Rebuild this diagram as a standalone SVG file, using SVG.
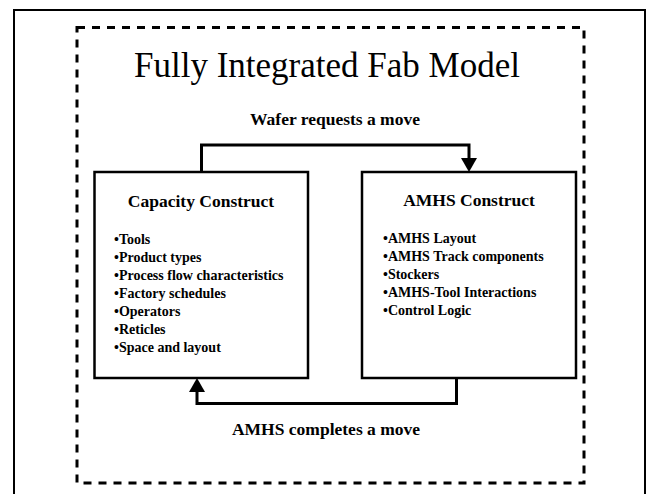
<svg xmlns="http://www.w3.org/2000/svg" width="647" height="494" viewBox="0 0 647 494">
  <style>
    .frame { fill: none; stroke: #000; stroke-width: 2; }
    .dash { fill: none; stroke: #000; stroke-width: 3; stroke-dasharray: 8 7; }
    .box { fill: #fff; stroke: #000; stroke-width: 2.5; }
    .link { fill: none; stroke: #000; stroke-width: 3; }
    .title { font-family: "Liberation Serif", "Times New Roman", serif; font-size: 35px; fill: #000; }
    .label { font-family: "Liberation Serif", "Times New Roman", serif; font-size: 17.5px; font-weight: bold; fill: #000; }
    .item { font-family: "Liberation Serif", "Times New Roman", serif; font-size: 14px; font-weight: bold; fill: #000; }
  </style>
  <defs>
    <marker id="head" markerUnits="userSpaceOnUse" markerWidth="14" markerHeight="16" viewBox="0 0 14 16" refX="0" refY="8" orient="auto">
      <path d="M0,0 L14,8 L0,16 Z" fill="#000"/>
    </marker>
  </defs>

  <rect width="647" height="494" fill="#fff"/>
  <!-- page frame -->
  <rect class="frame" x="14" y="10" width="631" height="500"/>
  <!-- model boundary -->
  <rect class="dash" x="77" y="27.5" width="507" height="455.5"/>

  <text class="title" x="327" y="77" text-anchor="middle">Fully Integrated Fab Model</text>

  <g id="connectors">
    <path class="link" d="M201.5,172 V145 H469 V158" marker-end="url(#head)"/>
    <path class="link" d="M456.5,378 V403.5 H197 V392" marker-end="url(#head)"/>
    <text class="label" x="335" y="125" text-anchor="middle">Wafer requests a move</text>
    <text class="label" x="326" y="435" text-anchor="middle">AMHS completes a move</text>
  </g>

  <g id="capacity">
    <rect class="box" x="94.5" y="172" width="213.5" height="206"/>
    <text class="label" x="201" y="207" text-anchor="middle">Capacity Construct</text>
    <text class="item" x="114" y="244">•Tools</text>
    <text class="item" x="114" y="262">•Product types</text>
    <text class="item" x="114" y="280">•Process flow characteristics</text>
    <text class="item" x="114" y="298">•Factory schedules</text>
    <text class="item" x="114" y="316">•Operators</text>
    <text class="item" x="114" y="334">•Reticles</text>
    <text class="item" x="114" y="352">•Space and layout</text>
  </g>

  <g id="amhs">
    <rect class="box" x="362" y="172" width="214" height="206"/>
    <text class="label" x="469" y="206" text-anchor="middle">AMHS Construct</text>
    <text class="item" x="383" y="243">•AMHS Layout</text>
    <text class="item" x="383" y="261">•AMHS Track components</text>
    <text class="item" x="383" y="279">•Stockers</text>
    <text class="item" x="383" y="297">•AMHS-Tool Interactions</text>
    <text class="item" x="383" y="315">•Control Logic</text>
  </g>
</svg>
